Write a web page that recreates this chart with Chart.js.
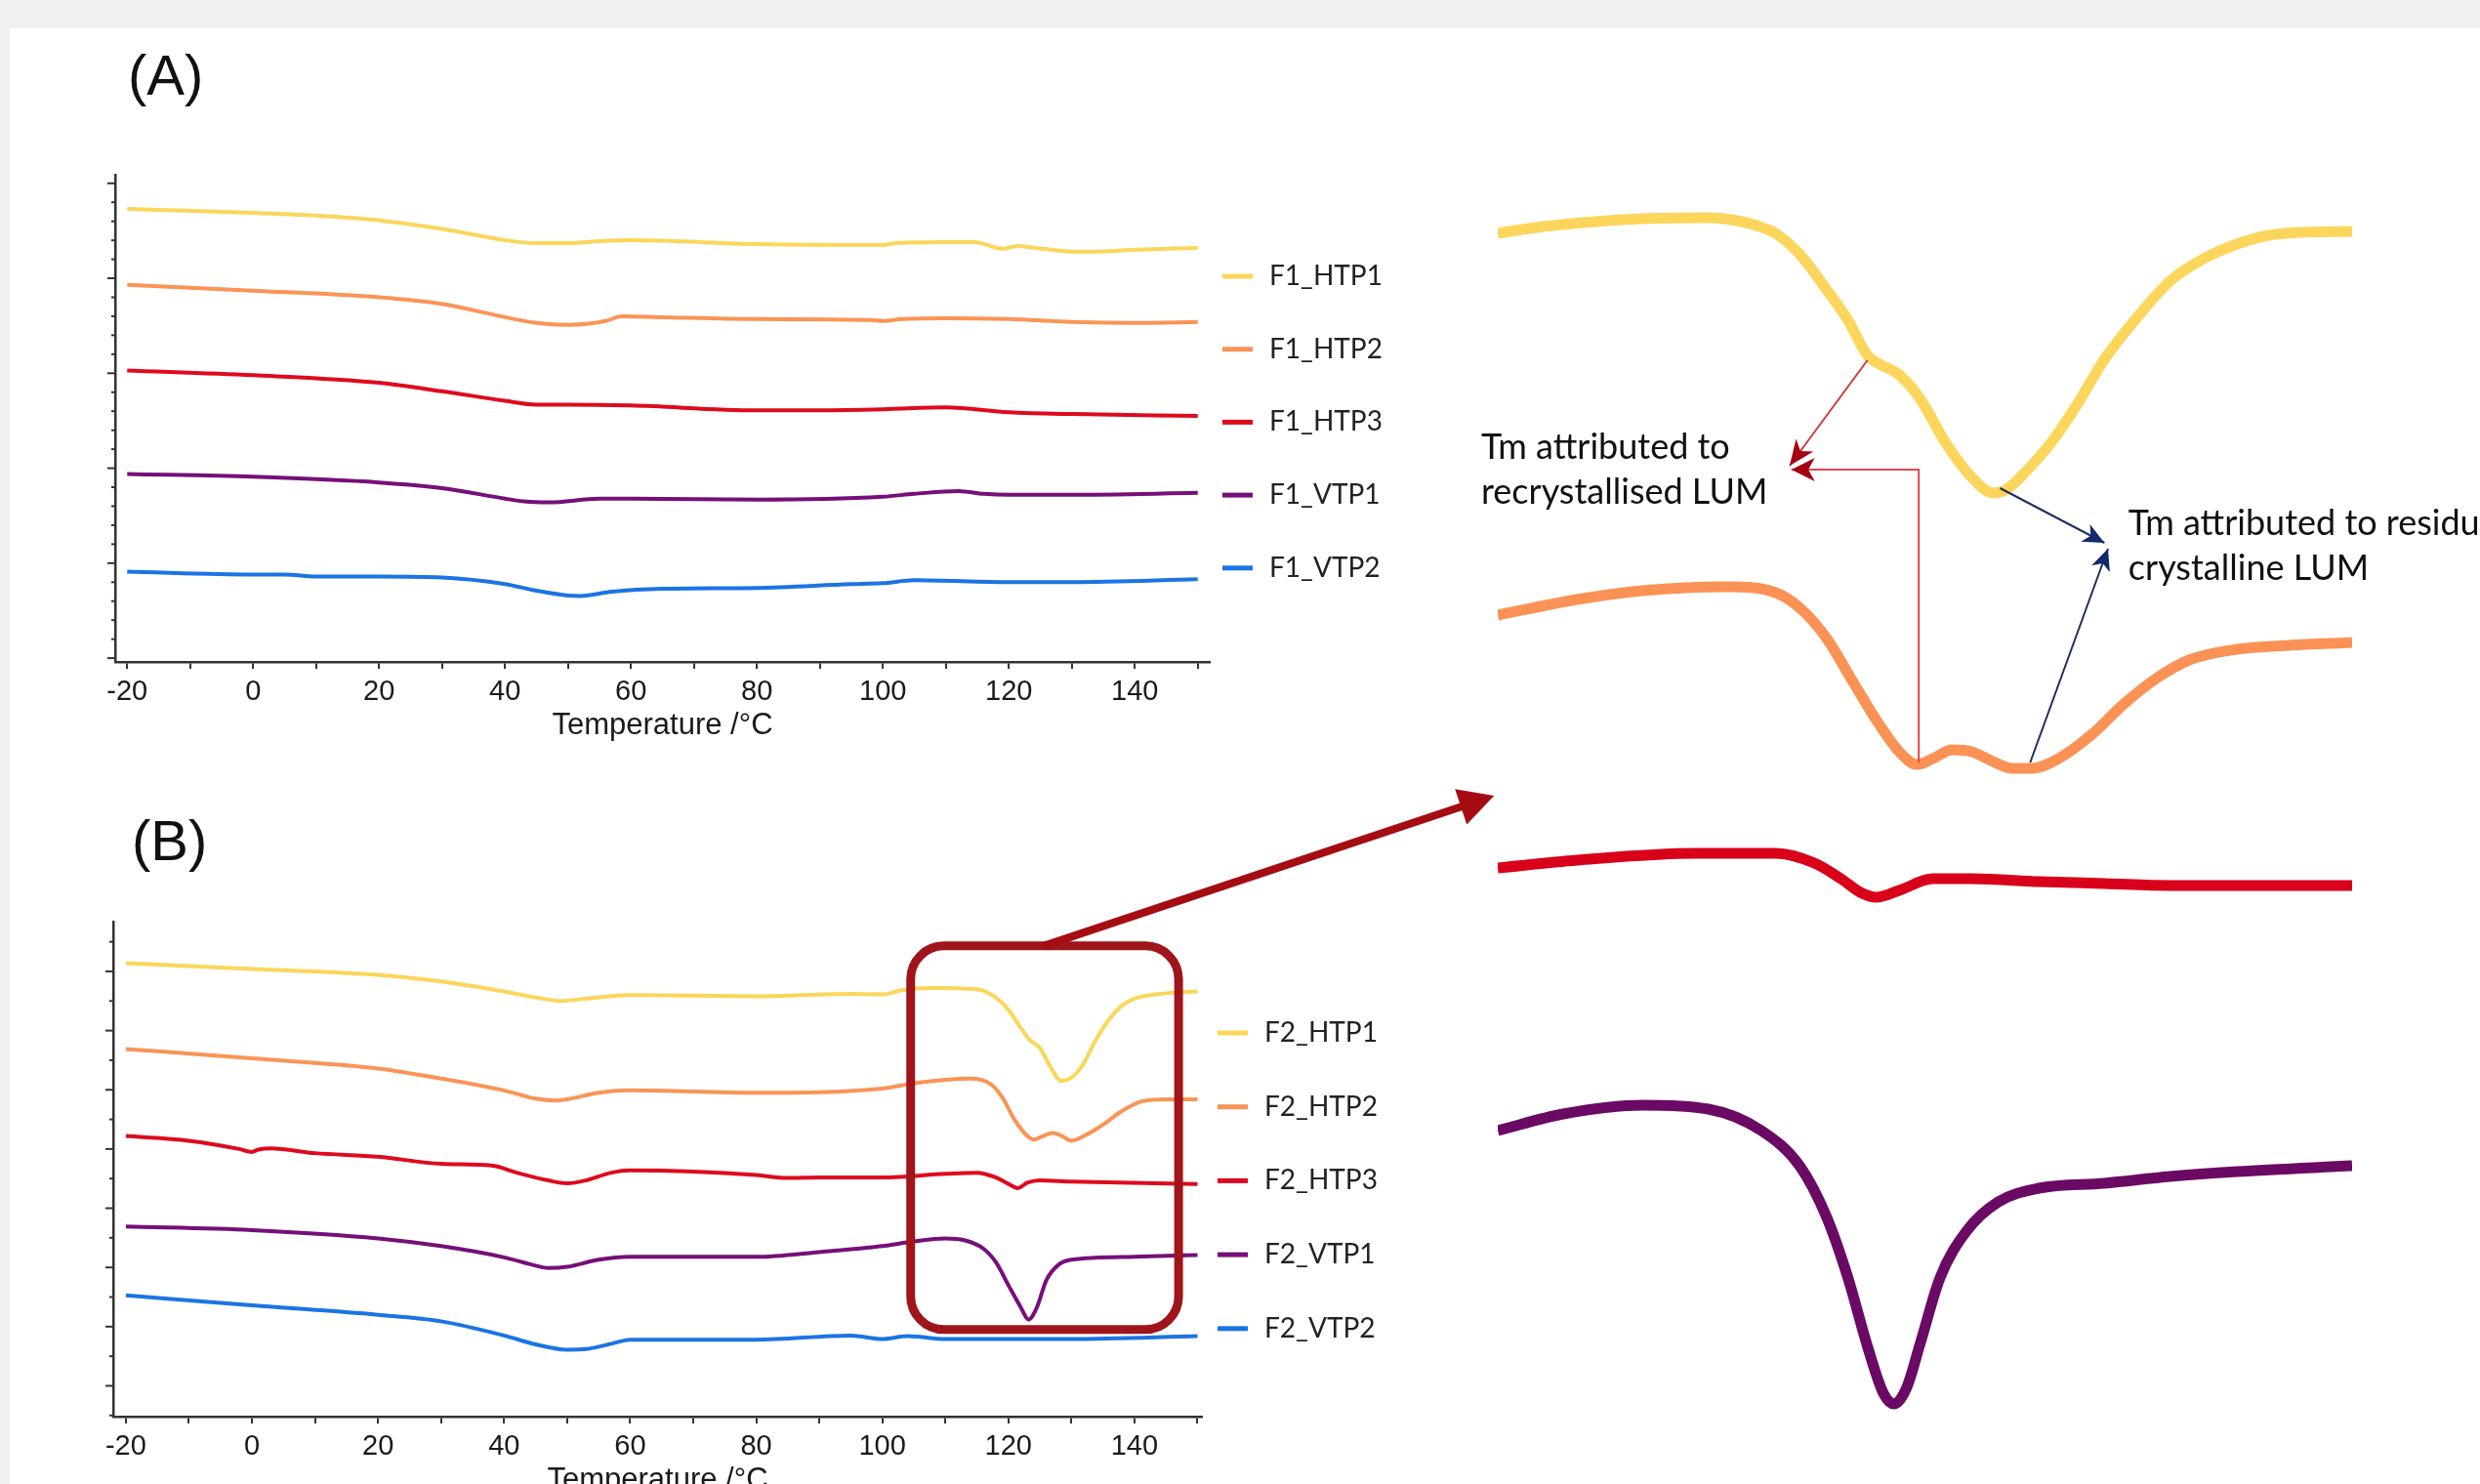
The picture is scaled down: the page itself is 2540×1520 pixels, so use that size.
<!DOCTYPE html>
<html>
<head>
<meta charset="utf-8">
<title>DSC thermograms</title>
<script src="https://cdn.jsdelivr.net/npm/chart.js@4.4.1/dist/chart.umd.min.js"></script>
<style>
  body { margin: 0; width: 2540px; height: 1520px; overflow: hidden; background: #f0f0f0; position: relative; }
  #page { position: absolute; left: 10px; top: 29px; right: 0; bottom: 0; background: #fff; }
  canvas { position: absolute; }
  .tag { position: absolute; font-family: "Liberation Sans", Arial, sans-serif; font-size: 58px; line-height: 1; color: #111; }
</style>
</head>
<body>
<div id="page"></div>
<div class="tag" style="left:131px;top:48px">(A)</div>
<div class="tag" style="left:135px;top:832px">(B)</div>
<canvas id="chartA" width="1500" height="640" style="left:0;top:150px"></canvas>
<canvas id="chartB" width="1500" height="644" style="left:0;top:900px"></canvas>
<canvas id="inset" width="1060" height="1420" style="left:1480px;top:100px"></canvas>
<canvas id="overlay" width="2540" height="1520" style="left:0;top:0"></canvas>
<script>
// temperature ticks shared by both panels
const xTicks = [-20, -10, 0, 10, 20, 30, 40, 50, 60, 70, 80, 90, 100, 110, 120, 130, 140, 150]
const xTickLabels = ['-20', '', '0', '', '20', '', '40', '', '60', '', '80', '', '100', '', '120', '', '140', '']

const colors = ['#fad65a', '#fa9456', '#de0a1e', '#760f78', '#1b74e4']
const insetColors = ['#fcd65c', '#fb9255', '#d8001a', '#6a0a64']

// (A) formulation F1, [temperature, heat flow (a.u.)]
const F1_HTP1 = [[-20, 4.73], [0, 4.69], [10, 4.66], [20, 4.61], [30, 4.52], [35, 4.46], [40, 4.40], [45, 4.37], [50, 4.37], [55, 4.39], [60, 4.40], [80, 4.36], [100, 4.35], [102, 4.37], [110, 4.38], [114.6, 4.38], [119, 4.31], [121.4, 4.34], [123, 4.33], [126.8, 4.30], [130.6, 4.28], [133.2, 4.28], [140, 4.30], [145, 4.31], [150, 4.32]]
const F1_HTP2 = [[-20, 3.93], [0, 3.87], [20, 3.80], [30, 3.73], [40, 3.59], [45, 3.53], [50, 3.51], [56, 3.55], [58.5, 3.60], [65, 3.59], [80, 3.57], [98, 3.56], [100, 3.55], [103, 3.57], [110, 3.58], [120, 3.57], [130, 3.54], [140, 3.53], [150, 3.54]]
const F1_HTP3 = [[-20, 3.03], [0, 2.98], [20, 2.90], [30, 2.81], [40, 2.71], [45, 2.67], [50, 2.67], [60, 2.66], [80, 2.61], [90, 2.61], [100, 2.62], [110, 2.64], [120, 2.59], [130, 2.57], [150, 2.55]]
const F1_VTP1 = [[-20, 1.94], [0, 1.91], [20, 1.85], [30, 1.79], [40, 1.68], [43, 1.65], [47, 1.64], [55, 1.68], [60, 1.68], [80, 1.67], [100, 1.70], [105, 1.73], [112, 1.76], [116, 1.73], [120, 1.72], [130, 1.72], [150, 1.74]]
const F1_VTP2 = [[-20, 0.91], [0, 0.88], [5, 0.88], [10, 0.86], [20, 0.86], [30, 0.85], [40, 0.78], [45, 0.71], [50, 0.66], [52, 0.655], [57, 0.70], [65, 0.73], [80, 0.74], [95, 0.78], [100, 0.79], [105, 0.82], [120, 0.80], [130, 0.80], [150, 0.83]]

// (B) formulation F2
const F2_HTP1 = [[-20, 7.14], [0, 7.04], [20, 6.94], [30, 6.83], [40, 6.66], [45, 6.56], [49, 6.50], [53, 6.54], [60, 6.60], [80, 6.58], [95, 6.62], [100, 6.61], [103, 6.68], [108, 6.72], [115, 6.70], [117.7, 6.58], [120, 6.35], [122, 6.04], [123.4, 5.84], [125, 5.71], [126.5, 5.42], [128.4, 5.15], [129.8, 5.19], [131.8, 5.42], [133.7, 5.81], [135.7, 6.15], [138, 6.42], [140, 6.54], [145, 6.63], [150, 6.66]]
const F2_HTP2 = [[-20, 5.69], [0, 5.53], [20, 5.36], [30, 5.19], [40, 4.99], [45, 4.85], [48, 4.82], [50, 4.84], [55, 4.95], [60, 4.99], [80, 4.95], [100, 5.02], [105, 5.11], [110, 5.17], [114, 5.19], [117, 5.11], [119, 4.88], [121, 4.49], [123, 4.22], [124, 4.16], [125.5, 4.22], [127, 4.27], [128.5, 4.22], [130, 4.14], [132, 4.22], [135, 4.41], [138, 4.64], [141, 4.80], [145, 4.84], [150, 4.84]]
const F2_HTP3 = [[-20, 4.22], [-10, 4.14], [-2, 4.00], [0, 3.95], [1, 3.99], [3, 4.01], [10, 3.93], [20, 3.87], [30, 3.75], [38, 3.72], [42, 3.60], [47, 3.47], [50, 3.42], [53, 3.47], [57, 3.60], [60, 3.64], [70, 3.62], [80, 3.56], [85, 3.51], [90, 3.52], [100, 3.52], [110, 3.58], [115, 3.60], [118, 3.52], [120, 3.41], [121.5, 3.34], [123, 3.43], [125, 3.47], [130, 3.45], [150, 3.41]]
const F2_VTP1 = [[-20, 2.69], [0, 2.63], [20, 2.49], [30, 2.36], [40, 2.17], [45, 2.03], [47, 1.99], [50, 2.01], [55, 2.13], [60, 2.18], [80, 2.18], [90, 2.26], [100, 2.36], [105, 2.44], [110, 2.49], [113, 2.46], [116, 2.32], [118, 2.09], [120, 1.70], [122, 1.32], [123.2, 1.12], [124.5, 1.32], [126, 1.78], [128, 2.05], [130, 2.13], [140, 2.18], [150, 2.21]]
const F2_VTP2 = [[-20, 1.53], [0, 1.36], [20, 1.20], [30, 1.09], [40, 0.85], [45, 0.70], [50, 0.61], [53, 0.62], [57, 0.71], [60, 0.78], [80, 0.78], [95, 0.85], [100, 0.79], [104, 0.84], [110, 0.79], [130, 0.79], [150, 0.84]]

// magnified melting region of F2 (separately scaled traces)
const ZOOM_HTP1 = [[101.1, 126.1], [103.7, 126.8], [109.3, 127.6], [113.0, 127.7], [114.9, 127.3], [115.9, 126.8], [116.8, 126.1], [118.2, 123.9], [119.7, 120.3], [120.9, 117.2], [122.0, 113.6], [122.7, 112.7], [123.8, 111.6], [125.0, 109.1], [126.4, 104.7], [127.9, 101.1], [129.1, 99.5], [129.8, 99.8], [130.9, 101.6], [132.4, 104.7], [133.9, 108.7], [135.4, 113.2], [137.3, 117.6], [139.1, 121.2], [141.0, 123.5], [142.9, 125.0], [144.7, 125.9], [146.6, 126.2], [149.4, 126.3]]
const ZOOM_HTP2 = [[101.1, 87.0], [105.6, 88.6], [109.3, 89.5], [114.1, 89.9], [116.8, 89.3], [118.2, 87.7], [119.7, 84.6], [121.2, 80.1], [122.7, 75.7], [123.8, 73.0], [124.8, 71.7], [125.7, 72.3], [126.8, 73.2], [127.9, 73.0], [129.1, 72.0], [130.2, 71.3], [131.3, 71.3], [132.8, 72.3], [134.7, 74.8], [136.5, 77.9], [138.4, 80.6], [140.2, 82.4], [142.9, 83.5], [145.8, 83.9], [149.4, 84.2]]
const ZOOM_HTP3 = [[101.1, 61.1], [105.6, 61.9], [112.3, 62.6], [116.8, 62.6], [119.0, 61.6], [120.5, 60.0], [121.6, 58.6], [122.5, 58.1], [123.8, 58.8], [125.7, 60.0], [127.9, 60.0], [131.7, 59.7], [135.4, 59.5], [139.1, 59.3], [142.9, 59.3], [149.4, 59.3]]
const ZOOM_VTP1 = [[101.1, 34.2], [104.8, 35.9], [109.3, 36.8], [113.0, 36.4], [116.0, 34.2], [118.2, 30.5], [119.7, 25.3], [120.9, 19.1], [122.0, 12.1], [122.9, 7.3], [123.5, 6.2], [124.2, 7.8], [125.0, 12.5], [126.1, 19.1], [127.6, 23.9], [129.4, 26.9], [131.7, 28.3], [135.4, 28.8], [139.1, 29.5], [142.9, 30.0], [149.4, 30.6]]

// zoom box in (B) and the arrow to the magnified view
const boxX = [104.5, 147.0]
const boxY = [0.95, 7.43]
const arrowFrom = [125.6, 7.43]
const arrowTo = [100.9, 68.5]

const toXY = s => s.map(p => ({ x: p[0], y: p[1] }))

// small y tick marks, long ones on whole units
const yMarks = {
    id: 'yMarks',
    afterDraw(chart, args, o) {
        const { ctx, chartArea, scales: { y } } = chart
        ctx.save()
        ctx.strokeStyle = '#333'
        ctx.lineWidth = 2
        const n = Math.round((o.to - o.from) / o.step)
        for (let k = 0; k <= n; k++) {
            const v = o.from + k * o.step
            const py = y.getPixelForValue(v)
            const len = Math.abs(v - Math.round(v)) < 1e-6 ? 8 : 4
            ctx.beginPath()
            ctx.moveTo(chartArea.left, py)
            ctx.lineTo(chartArea.left - len, py)
            ctx.stroke()
        }
        ctx.restore()
    }
}

const sideLegend = {
    id: 'sideLegend',
    afterDraw(chart, args, o) {
        const { ctx, chartArea } = chart
        ctx.save()
        ctx.font = '28px Lato'
        ctx.textBaseline = 'middle'
        ctx.fillStyle = '#222'
        chart.data.datasets.forEach((ds, i) => {
            const yy = chartArea.top + o.first + i * o.gap
            const x0 = chartArea.right + o.offset
            ctx.strokeStyle = ds.borderColor
            ctx.lineWidth = 5
            ctx.beginPath()
            ctx.moveTo(x0, yy)
            ctx.lineTo(x0 + 31, yy)
            ctx.stroke()
            ctx.fillText(ds.label, x0 + 48, yy)
        })
        ctx.restore()
    }
}

const zoomBox = {
    id: 'zoomBox',
    afterDatasetsDraw(chart) {
        const { ctx, scales: { x, y } } = chart
        const l = x.getPixelForValue(boxX[0]), r = x.getPixelForValue(boxX[1])
        const t = y.getPixelForValue(boxY[1]), b = y.getPixelForValue(boxY[0])
        const rad = 34
        ctx.save()
        ctx.strokeStyle = '#a0151c'
        ctx.lineWidth = 9
        ctx.beginPath()
        ctx.moveTo(l + rad, t)
        ctx.arcTo(r, t, r, b, rad)
        ctx.arcTo(r, b, l, b, rad)
        ctx.arcTo(l, b, l, t, rad)
        ctx.arcTo(l, t, r, t, rad)
        ctx.closePath()
        ctx.stroke()
        ctx.restore()
    }
}

function head(ctx, from, to, len, half, color) {
    const a = Math.atan2(to[1] - from[1], to[0] - from[0])
    const c = Math.cos(a), s = Math.sin(a)
    const bx = to[0] - len * c, by = to[1] - len * s
    ctx.beginPath()
    ctx.moveTo(to[0], to[1])
    ctx.lineTo(bx - s * half, by + c * half)
    ctx.lineTo(to[0] - len * 0.72 * c, to[1] - len * 0.72 * s)
    ctx.lineTo(bx + s * half, by - c * half)
    ctx.closePath()
    ctx.fillStyle = color
    ctx.fill()
}

function path(ctx, pts, color, width) {
    ctx.beginPath()
    pts.forEach((p, i) => i ? ctx.lineTo(p[0], p[1]) : ctx.moveTo(p[0], p[1]))
    ctx.strokeStyle = color
    ctx.lineWidth = width
    ctx.stroke()
}

// call-outs on the magnified view, positions in its data units
const notes = {
    id: 'notes',
    afterDraw(chart) {
        const { ctx, scales: { x, y } } = chart
        const P = p => [x.getPixelForValue(p[0]), y.getPixelForValue(p[1])]
        ctx.save()
        const diag = [P([122.0, 113.1]), P([117.6, 102.3])]
        const elbow = [P([124.9, 71.9]), P([124.9, 101.9]), P([117.7, 101.9])]
        path(ctx, diag, '#cf3a3a', 2)
        path(ctx, elbow, '#e0474f', 2)
        head(ctx, diag[0], diag[1], 26, 11, '#a50014')
        head(ctx, elbow[1], elbow[2], 24, 12, '#a50014')

        const blue1 = [P([129.5, 100.0]), P([135.4, 94.4])]
        const blue2 = [P([131.2, 71.9]), P([135.6, 93.8])]
        path(ctx, blue1, '#1e2d5a', 2)
        path(ctx, blue2, '#1e2d5a', 2)
        head(ctx, blue1[0], blue1[1], 22, 10, '#12296b')
        head(ctx, blue2[0], blue2[1], 22, 10, '#12296b')

        ctx.font = '36px Lato'
        ctx.fillStyle = '#111'
        ctx.textBaseline = 'middle'
        let p = P([100.16, 104.2])
        ctx.fillText('Tm attributed to', p[0], p[1])
        p = P([100.16, 99.6])
        ctx.fillText('recrystallised LUM', p[0], p[1])
        p = P([136.75, 96.4])
        ctx.fillText('Tm attributed to residual', p[0], p[1])
        p = P([136.75, 91.8])
        ctx.fillText('crystalline LUM', p[0], p[1])
        ctx.restore()
    }
}

function dscChart(id, series, names, o) {
    return new Chart(document.getElementById(id), {
        type: 'line',
        data: {
            datasets: series.map((s, i) => ({
                label: names[i],
                data: toXY(s),
                borderColor: colors[i],
                borderWidth: 4,
                pointRadius: 0,
                cubicInterpolationMode: 'monotone',
            }))
        },
        options: {
            responsive: false,
            animation: false,
            layout: { padding: o.padding },
            scales: {
                x: {
                    type: 'linear',
                    min: o.xMin,
                    max: o.xMax,
                    afterBuildTicks: ax => { ax.ticks = xTicks.map(v => ({ value: v })) },
                    grid: { drawOnChartArea: false, tickLength: 7, lineWidth: 2, color: '#333' },
                    border: { color: '#333', width: 2.5 },
                    ticks: {
                        autoSkip: false,
                        maxRotation: 0,
                        padding: 7,
                        color: '#1a1a1a',
                        font: { family: 'Liberation Sans', size: 29 },
                        callback: (v, i) => xTickLabels[i],
                    },
                    title: {
                        display: true,
                        text: 'Temperature /°C',
                        color: '#1a1a1a',
                        font: { family: 'Liberation Sans', size: 31 },
                        padding: { top: -9, bottom: 9 },
                    },
                },
                y: {
                    min: o.yMin,
                    max: o.yMax,
                    ticks: { display: false },
                    grid: { display: false },
                    border: { color: '#333', width: 2.5 },
                    // room for the tick marks and the overhang of the first x label
                    afterFit: s => { s.width = 12 },
                },
            },
            plugins: {
                legend: { display: false },
                tooltip: { enabled: false },
                yMarks: o.marks,
                sideLegend: o.legend,
            },
        },
        plugins: o.box ? [yMarks, sideLegend, zoomBox] : [yMarks, sideLegend],
    })
}

const chartA = dscChart('chartA',
    [F1_HTP1, F1_HTP2, F1_HTP3, F1_VTP1, F1_VTP2],
    ['F1_HTP1', 'F1_HTP2', 'F1_HTP3', 'F1_VTP1', 'F1_VTP2'],
    {
        padding: { left: 106, top: 29, right: 261, bottom: 19 },
        xMin: -21.9, xMax: 151.9, yMin: -0.04, yMax: 5.09,
        marks: { from: 0, to: 5, step: 0.2 },
        legend: { offset: 13, first: 104, gap: 74.7 },
    })

const chartB = dscChart('chartB',
    [F2_HTP1, F2_HTP2, F2_HTP3, F2_VTP1, F2_VTP2],
    ['F2_HTP1', 'F2_HTP2', 'F2_HTP3', 'F2_VTP1', 'F2_VTP2'],
    {
        padding: { left: 104, top: 44, right: 269, bottom: 0 },
        xMin: -22.0, xMax: 150.7, yMin: -0.52, yMax: 7.84,
        marks: { from: -0.5, to: 7.5, step: 0.5 },
        legend: { offset: 16, first: 114, gap: 75.7 },
        box: true,
    })

const chartIn = new Chart(document.getElementById('inset'), {
    type: 'line',
    data: {
        datasets: [ZOOM_HTP1, ZOOM_HTP2, ZOOM_HTP3, ZOOM_VTP1].map((s, i) => ({
            data: toXY(s),
            borderColor: insetColors[i],
            borderWidth: 11,
            pointRadius: 0,
            cubicInterpolationMode: 'monotone',
        }))
    },
    options: {
        responsive: false,
        animation: false,
        layout: { padding: { left: 54, right: 131, top: 0, bottom: 20 } },
        scales: {
            x: { type: 'linear', min: 101.1, max: 149.4, display: false },
            y: { min: 0, max: 140, display: false },
        },
        plugins: { legend: { display: false }, tooltip: { enabled: false } },
    },
    plugins: [notes],
})

// big arrow from the box in (B) to the magnified view
const ov = document.getElementById('overlay').getContext('2d')
const cb = document.getElementById('chartB'), ci = document.getElementById('inset')
const start = [chartB.scales.x.getPixelForValue(arrowFrom[0]) + cb.offsetLeft, chartB.scales.y.getPixelForValue(arrowFrom[1]) + cb.offsetTop]
const end = [chartIn.scales.x.getPixelForValue(arrowTo[0]) + ci.offsetLeft, chartIn.scales.y.getPixelForValue(arrowTo[1]) + ci.offsetTop]
const ang = Math.atan2(end[1] - start[1], end[0] - start[0])
path(ov, [start, [end[0] - 30 * Math.cos(ang), end[1] - 30 * Math.sin(ang)]], '#a50d12', 8)
ov.beginPath()
ov.moveTo(end[0], end[1])
ov.lineTo(end[0] - 36 * Math.cos(ang) - 19 * Math.sin(ang), end[1] - 36 * Math.sin(ang) + 19 * Math.cos(ang))
ov.lineTo(end[0] - 36 * Math.cos(ang) + 19 * Math.sin(ang), end[1] - 36 * Math.sin(ang) - 19 * Math.cos(ang))
ov.closePath()
ov.fillStyle = '#a50d12'
ov.fill()
</script>
</body>
</html>
